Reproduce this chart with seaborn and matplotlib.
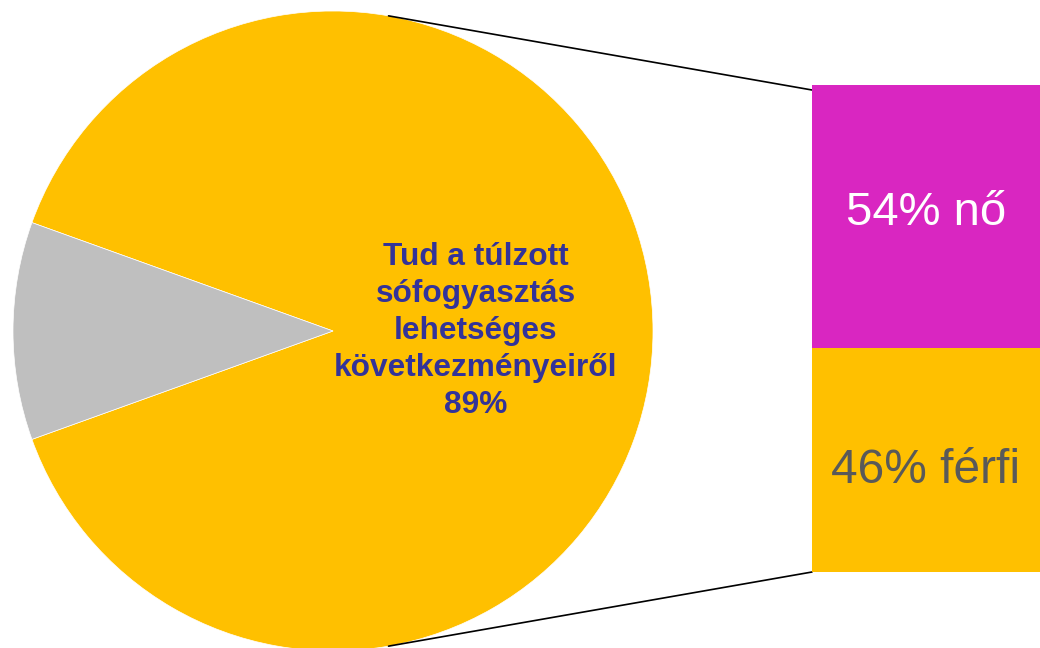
import matplotlib
matplotlib.use("Agg")
import matplotlib.pyplot as plt
import numpy as np
import pandas as pd
import seaborn as sb

# data
pie_labels = ["Tud", "Nem tud"]
pie_values = [89, 11]
pie_colors = ["#FFC000", "#BFBFBF"]

bar_labels = ["54% nő", "46% férfi"]
bar_values = [54, 46]
bar_colors = ["#D926C1", "#FFC000"]
bar_text_colors = ["white", "#595959"]

center_text = "Tud a túlzott\nsófogyasztás\nlehetséges\nkövetkezményeiről\n89%"

sb.set_theme(style="white")
plt.rcParams['font.family'] = ['Liberation Sans', 'DejaVu Sans']

W, H = 1040, 648
fig = plt.figure(figsize=(W / 100, H / 100), dpi=100)

# pie axes in pixel coords (y up)
ax = fig.add_axes([0, 0, 1, 1])
ax.set_xlim(0, W)
ax.set_ylim(0, H)
ax.set_aspect("equal")
ax.axis("off")

cx, cy, r = 333, H - 331, 320
gray_share = pie_values[1] / sum(pie_values) * 360
start = 180 - (360 - gray_share / 2)
ax.pie(pie_values, colors=pie_colors, center=(cx, cy), radius=r,
       startangle=start, counterclock=True,
       wedgeprops=dict(linewidth=0.5, edgecolor="white"))
ax.set_xlim(0, W)
ax.set_ylim(0, H)

ax.text(476, H - 331, center_text, ha="center", va="center",
        multialignment="center", fontsize=22.8, fontweight="bold",
        color="#333399", linespacing=1.3)

# stacked bar (seaborn) on its own axes
bx0, by0, bw, bh = 812, H - 572, 228, 487
bax = fig.add_axes([bx0 / W, by0 / H, bw / W, bh / H])
df = pd.DataFrame({"g": ["x"], "total": [sum(bar_values)], "low": [bar_values[1]]})
sb.barplot(data=df, x="g", y="total", color=bar_colors[0], width=1,
           saturation=1, linewidth=0, ax=bax)
sb.barplot(data=df, x="g", y="low", color=bar_colors[1], width=1,
           saturation=1, linewidth=0, ax=bax)
bax.set_xlim(-0.5, 0.5)
bax.set_ylim(0, 100)
bax.axis("off")
bax.text(0, 73.7, bar_labels[0], ha="center",
         va="center", fontsize=34, color=bar_text_colors[0])
bax.text(0, 20.9, bar_labels[1], ha="center",
         va="center", fontsize=34.5, color=bar_text_colors[1])

# connector lines from the pie edge to the bar corners
ang = np.deg2rad(80)
ax.plot([cx + r * np.cos(ang), bx0], [cy + r * np.sin(ang), by0 + bh - 5],
        color="black", lw=1.2)
ax.plot([cx + r * np.cos(ang), bx0], [cy - r * np.sin(ang), by0],
        color="black", lw=1.2)

fig.savefig("out.png", dpi=100)
